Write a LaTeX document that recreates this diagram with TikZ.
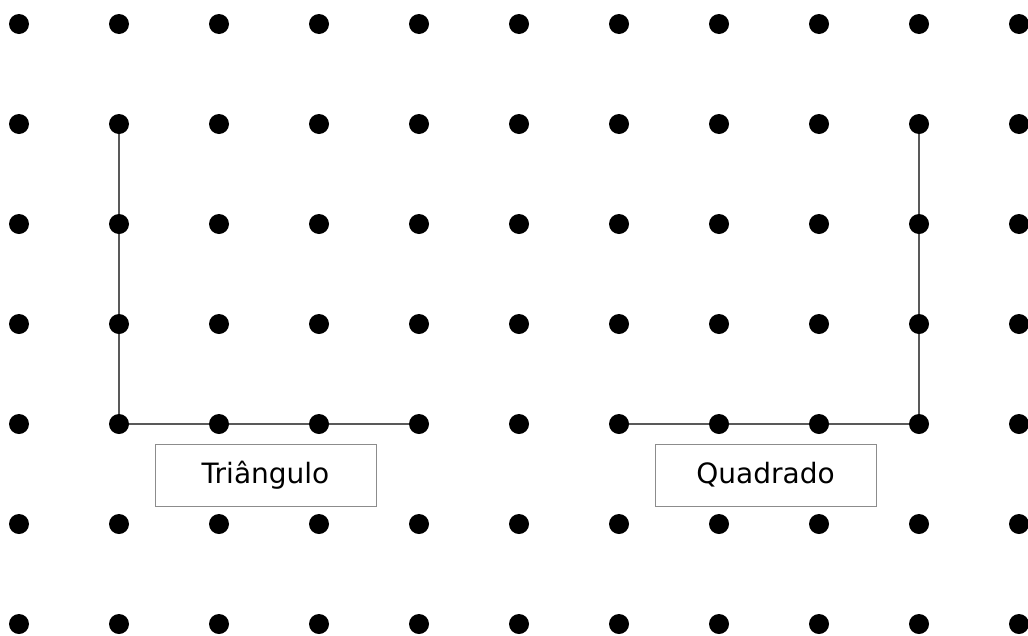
\documentclass[tikz,border=0pt]{standalone}
\usepackage{fontspec}
\setmainfont{DejaVu Sans}
\begin{document}
\begin{tikzpicture}[x=1pt,y=-1pt,
  dot/.style={circle,fill=black,inner sep=0pt,minimum size=20pt},
  edge/.style={draw=black!65,line width=2pt},
  label/.style={draw=black!45,line width=1pt,minimum width=221pt,minimum height=62pt,inner sep=0pt,font=\fontsize{28}{32}\selectfont}]
\useasboundingbox[fill=white] (0,0) rectangle (1028,635);
\foreach \i in {0,...,10}{
  \foreach \j in {0,...,6}{
    \coordinate (p\i-\j) at ({19+100*\i},{24+100*\j});
  }
}
\draw[edge] (p1-1) -- (p1-4) -- (p4-4);
\draw[edge] (p9-1) -- (p9-4) -- (p6-4);
\foreach \i in {0,...,10}{
  \foreach \j in {0,...,6}{
    \node[dot] (d\i-\j) at (p\i-\j) {};
  }
}
\node[label] (tri) at (265.5,475) {Triângulo};
\node[label] (quad) at (765.5,475) {Quadrado};
\end{tikzpicture}
\end{document}
